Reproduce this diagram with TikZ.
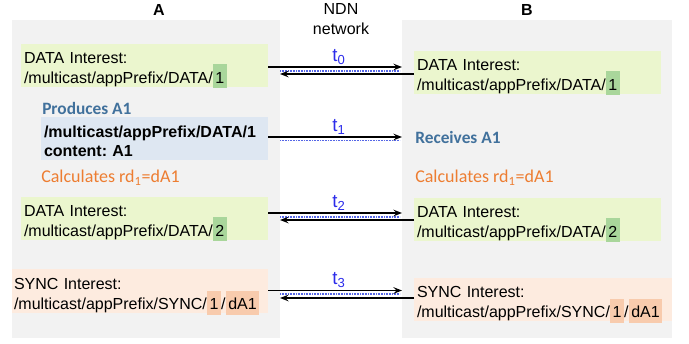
\documentclass[tikz,border=0pt]{standalone}
\usepackage{fontspec}
\setmainfont{Liberation Sans}
\newfontfamily\calibfont{Carlito}
\usetikzlibrary{arrows.meta,calc}
\frenchspacing
\definecolor{panel}{HTML}{F2F2F2}
\definecolor{boxgreen}{HTML}{EBF6CE}
\definecolor{hlgreen}{HTML}{A9D69B}
\definecolor{boxblue}{HTML}{DEE7F2}
\definecolor{boxorange}{HTML}{FDEBDF}
\definecolor{hlorange}{HTML}{F8CBAD}
\definecolor{labblue}{HTML}{41719C}
\definecolor{laborange}{HTML}{ED7D31}
\definecolor{tblue}{HTML}{2B2BEA}
\definecolor{dotblue}{HTML}{5566E6}
\newcommand{\hlbox}[2]{\smash{\setlength{\fboxsep}{2pt}\colorbox{#1}{\rule[-1.75pt]{0pt}{14pt}#2}}}
\newcommand{\tstr}[1]{\rule{0pt}{#1}}
\newcommand{\bstr}[1]{\rule[-#1]{0pt}{#1}}
\begin{document}
\begin{tikzpicture}[x=0.75pt,y=-0.75pt,
  txt/.style={font=\fontsize{12}{15}\selectfont},
  panelbox/.style={fill=panel, inner sep=0pt, outer sep=0pt, anchor=north west, minimum height=238.5pt},
  msgbox/.style={txt, inner xsep=2.25pt, inner ysep=0pt, outer sep=0pt, anchor=north west, align=left, minimum height=32.25pt},
  head/.style={font=\fontsize{12}{15}\selectfont\bfseries, inner sep=0pt},
  bluelab/.style={font=\calibfont\bfseries\fontsize{13}{15}\selectfont, text=labblue, inner sep=0pt},
  orangelab/.style={font=\calibfont\fontsize{13.5}{15}\selectfont, text=laborange, inner sep=0pt},
  tlab/.style={font=\fontsize{14}{16}\selectfont, text=tblue, inner sep=1.2pt},
  msg/.style={line width=1.4pt, -{Stealth[length=6.5pt,width=5pt,inset=2.5pt]}},
  dotline/.style={dotblue, line width=0.9pt, dash pattern=on 0.6pt off 0.6pt}
]
\useasboundingbox (0,0) rectangle (689,343);
% panels
\node[panelbox, minimum width=201pt] (pA) at (12,20) {};
\node[panelbox, minimum width=202.5pt] (pB) at (402,20) {};
% headers
\node[head, anchor=base] (hA) at (159,15) {A};
\node[head, anchor=base] (hB) at (527,15) {B};
\node[txt, align=center, anchor=north, inner sep=0pt] (ndn) at (341,3.5) {NDN\\network};
% message boxes
\node[msgbox, fill=boxgreen, text width=180.75pt] (a1) at (21,44)
  {\tstr{14.25pt}DATA Interest:\\/multicast/appPrefix/DATA/\hlbox{hlgreen}{1}\bstr{3pt}};
\node[msgbox, fill=boxgreen, text width=180.75pt] (b1) at (414,51)
  {\tstr{14.25pt}DATA Interest:\\/multicast/appPrefix/DATA/\hlbox{hlgreen}{1}\bstr{3pt}};
\node[msgbox, fill=boxblue, text width=165.75pt, font=\fontsize{12}{14.25}\selectfont\bfseries] (pkt) at (41,117)
  {\tstr{15pt}/multicast/appPrefix/DATA/1\\content: A1\bstr{3pt}};
\node[msgbox, fill=boxgreen, text width=180.75pt] (a2) at (21,197)
  {\tstr{14.25pt}DATA Interest:\\/multicast/appPrefix/DATA/\hlbox{hlgreen}{2}\bstr{3pt}};
\node[msgbox, fill=boxgreen, text width=180.75pt] (b2) at (414,198)
  {\tstr{14.25pt}DATA Interest:\\/multicast/appPrefix/DATA/\hlbox{hlgreen}{2}\bstr{3pt}};
\node[msgbox, fill=boxorange, text width=189pt, inner xsep=1.5pt] (sa) at (12,269)
  {\tstr{15.5pt}SYNC Interest:\\/multicast/appPrefix/SYNC/\hlbox{hlorange}{1}/\hlbox{hlorange}{dA1}\bstr{1.75pt}};
\node[msgbox, fill=boxorange, text width=189pt] (sb) at (414,278)
  {\tstr{14.75pt}SYNC Interest:\\/multicast/appPrefix/SYNC/\hlbox{hlorange}{1}/\hlbox{hlorange}{dA1}\bstr{2.5pt}};
% side labels
\node[bluelab, anchor=base west] (prod) at (42,114) {Produces A1};
\node[bluelab, anchor=base west] (recv) at (415,143) {Receives A1};
\node[orangelab, anchor=base west] (calcA) at (41,182.5) {Calculates rd\textsubscript{1}=dA1};
\node[orangelab, anchor=base west] (calcB) at (415,182.5) {Calculates rd\textsubscript{1}=dA1};
% t0
\coordinate (f0) at ($(a1.east)+(0,1.5)$);
\coordinate (r0) at ($(b1.west)+(0,1.5)$);
\draw[dotline] ($(f0 -| pA.east)+(0,4)$) -- ($(f0 -| pB.west)+(-2,4)$);
\draw[msg] (f0) -- (f0 -| pB.west) node[tlab, pos=0.53, above] (t0) {t\textsubscript{0}};
\draw[msg] (r0) -- (r0 -| pA.east);
% t1
\coordinate (f1) at ($(pkt.east)+(0,-1.5)$);
\draw[dotline] ($(f1 -| pA.east)+(0,3.5)$) -- ($(f1 -| pB.west)+(-2,3.5)$);
\draw[msg] (f1) -- (f1 -| pB.west) node[tlab, pos=0.53, above] (t1) {t\textsubscript{1}};
% t2
\coordinate (f2) at ($(a2.east)+(0,-5.5)$);
\coordinate (r2) at ($(b2.west)+(0,0.5)$);
\draw[dotline] ($(f2 -| pA.east)+(0,4)$) -- ($(f2 -| pB.west)+(-2,4)$);
\draw[msg] (f2) -- (f2 -| pB.west) node[tlab, pos=0.53, above] (t2) {t\textsubscript{2}};
\draw[msg] (r2) -- (r2 -| pA.east);
% t3
\coordinate (f3) at ($(sa.east)+(0,-0.5)$);
\coordinate (r3) at ($(sb.west)+(0,-1.5)$);
\draw[dotline] ($(f3 -| pA.east)+(0,3.5)$) -- ($(f3 -| pB.west)+(-2,3.5)$);
\draw[msg] (f3) -- (f3 -| pB.west) node[tlab, pos=0.53, above] (t3) {t\textsubscript{3}};
\draw[msg] (r3) -- (r3 -| pA.east);
\end{tikzpicture}
\end{document}
